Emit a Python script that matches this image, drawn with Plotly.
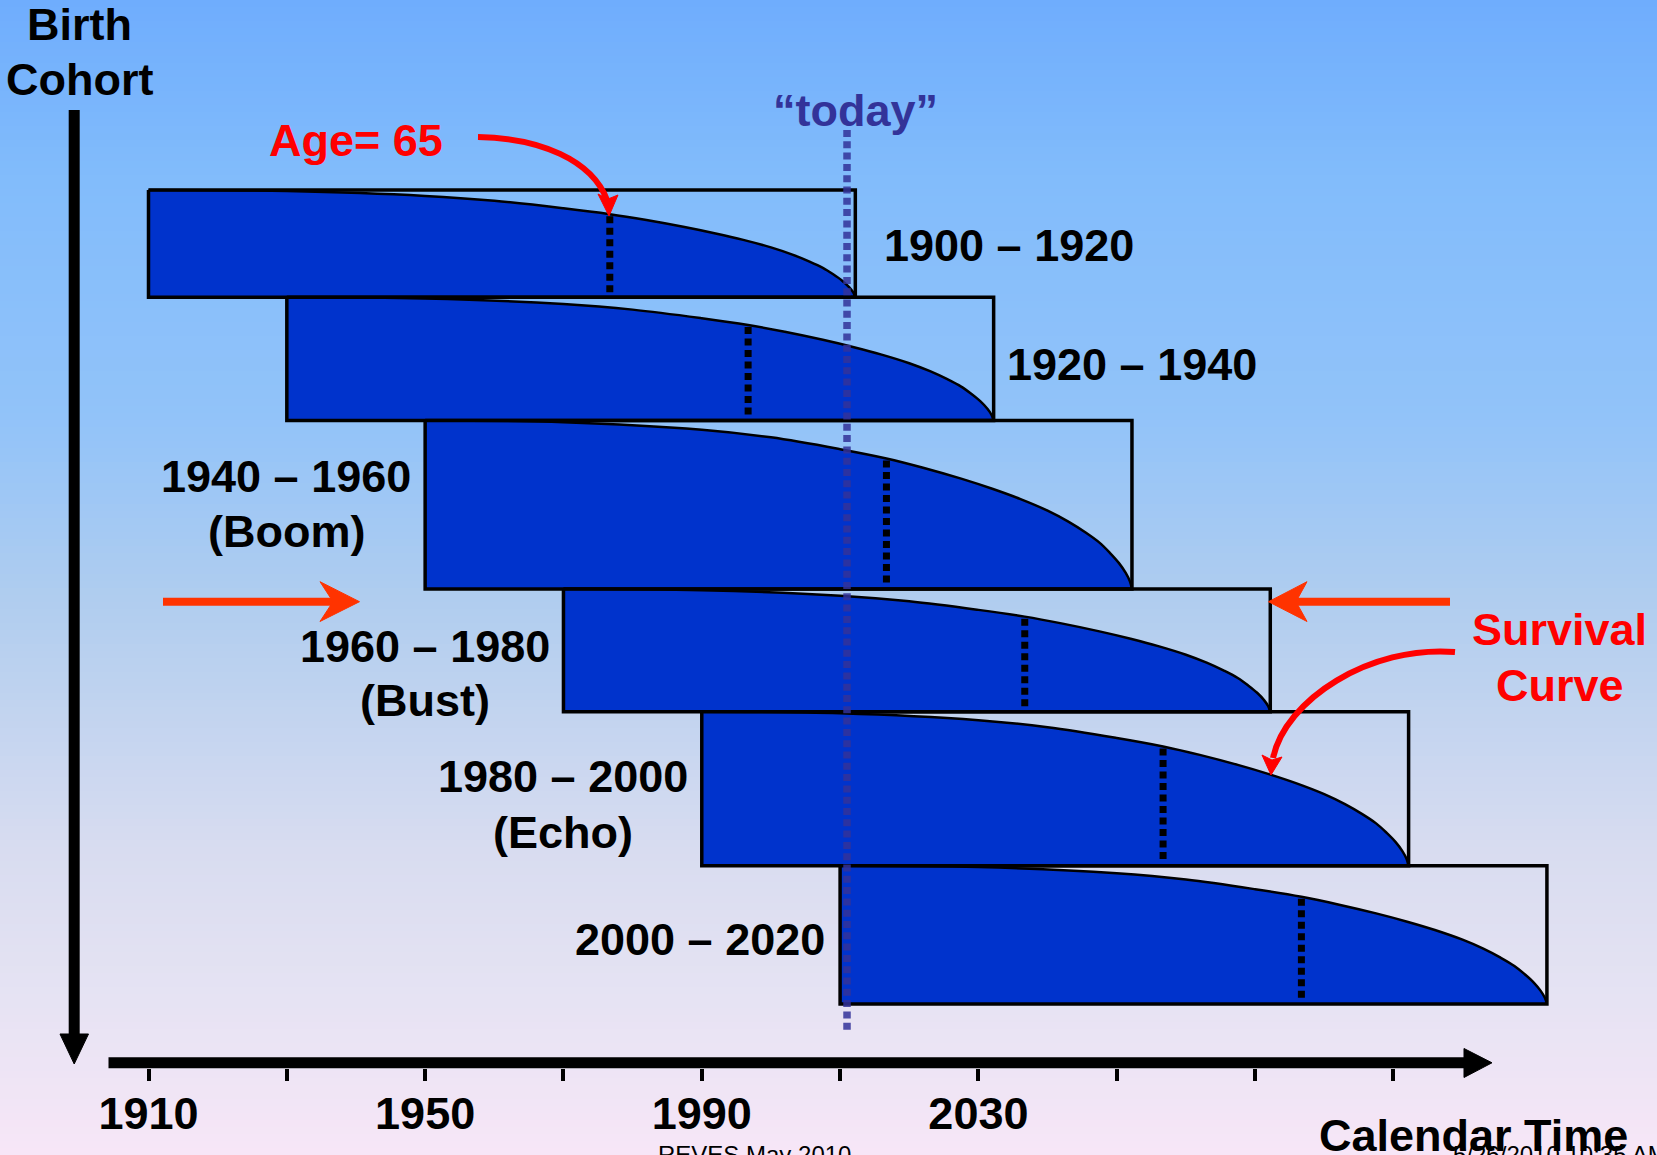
import plotly.graph_objects as go

W, H = 1657, 1155

# ---------------- data ----------------
COHORT_LABELS = ["1900 – 1920", "1920 – 1940", "1940 – 1960", "1960 – 1980", "1980 – 2000", "2000 – 2020"]
COHORT_NICKNAMES = ["", "", "(Boom)", "(Bust)", "(Echo)", ""]
COHORT_START = [1910, 1930, 1950, 1970, 1990, 2010]          # calendar year where each cohort box starts
COHORT_SIZE = [107.3, 123.2, 168.5, 122.8, 153.9, 138.3]      # relative cohort size (box height)
LIFESPAN = 102.2                                              # years covered by each box

SURV_AGE = [0, 20, 40, 50, 60, 66.7, 72, 77.5, 82, 86, 90, 93, 95.5, 97.5, 99, 100.3, 101.3, 101.9, 102.2]
SURV_PROP = [1.0, 0.99, 0.945, 0.9, 0.83, 0.775, 0.72, 0.655, 0.595, 0.535, 0.465, 0.4, 0.335, 0.275, 0.215,
             0.155, 0.095, 0.045, 0.0]
AGE_MARK = 66.7            # position of the "Age = 65" marker (years after box start)
TODAY_YEAR = 2011

TICK_YEARS = [1910, 1930, 1950, 1970, 1990, 2010, 2030, 2050, 2070, 2090]
TICK_LABELS = ["1910", "", "1950", "", "1990", "", "2030", "", "", ""]

# ---------------- geometry / style ----------------
PX_PER_YEAR = 6.916
ORIGIN_PX = 148.5          # pixel position of 1910
X0 = 1910 - ORIGIN_PX / PX_PER_YEAR
X1 = X0 + W / PX_PER_YEAR
BOX_TOP0 = 190.0

FONT = "Liberation Sans, Arial, Helvetica, sans-serif"
BLUE = "#0033cc"
RED = "#ff0000"
ORANGE_RED = "#ff3300"
TODAY_COL = "#333399"


def px(x):
    return x / W


def py(y):
    return 1 - y / H


fig = go.Figure()

# ---- background gradient (styling) ----
stops = [(0, (111, 173, 253)), (180, (130, 188, 251)), (420, (146, 195, 249)), (600, (176, 205, 239)),
         (850, (216, 220, 240)), (1000, (230, 227, 243)), (1155, (247, 230, 247))]


def grad(y):
    for (ya, ca), (yb, cb) in zip(stops[:-1], stops[1:]):
        if ya <= y <= yb:
            t = (y - ya) / (yb - ya)
            return "rgb(%d,%d,%d)" % tuple(round(a + (b - a) * t) for a, b in zip(ca, cb))
    return "rgb(%d,%d,%d)" % stops[-1][1]


shapes = []
step = 7
y = 0
while y < H:
    shapes.append(dict(type="rect", xref="paper", yref="paper", x0=0, x1=1, y0=py(min(y + step + 1, H)),
                       y1=py(y), fillcolor=grad(y + step / 2), line=dict(width=0), layer="below"))
    y += step

# ---- cohort boxes with survival curves ----
mark_idx = SURV_AGE.index(AGE_MARK)
top = BOX_TOP0
for i, (start, size) in enumerate(zip(COHORT_START, COHORT_SIZE)):
    end = start + LIFESPAN
    bottom = top + size
    # baseline for fill
    fig.add_trace(go.Scatter(x=[start, end], y=[bottom, bottom], mode="lines", line=dict(width=0, color=BLUE),
                             hoverinfo="skip", showlegend=False))
    # survival curve
    cx = [start + a for a in SURV_AGE]
    cy = [top + (1 - s) * size for s in SURV_PROP]
    fig.add_trace(go.Scatter(x=cx, y=cy, mode="lines", line=dict(color="black", width=2.5, shape="spline",
                                                                 smoothing=1.0),
                             fill="tonexty", fillcolor=BLUE, hoverinfo="skip", showlegend=False))
    # box outline
    fig.add_trace(go.Scatter(x=[start, end, end, start, start], y=[top, top, bottom, bottom, top], mode="lines",
                             line=dict(color="black", width=3.5), hoverinfo="skip", showlegend=False))
    # age-65 dotted marker
    fig.add_trace(go.Scatter(x=[start + AGE_MARK, start + AGE_MARK], y=[cy[mark_idx] + 2, bottom - 3],
                             mode="lines", line=dict(color="black", width=7, dash="7px,4.5px"),
                             hoverinfo="skip", showlegend=False))
    top = bottom

# ---- "today" line ----
fig.add_trace(go.Scatter(x=[TODAY_YEAR, TODAY_YEAR], y=[130, 1033], mode="lines",
                         line=dict(color="rgba(51,51,153,0.85)", width=7.5, dash="7px,4.3px"),
                         hoverinfo="skip", showlegend=False))

# ---- axis arrows (black) ----
shapes.append(dict(type="line", xref="paper", yref="paper", x0=px(74.2), x1=px(74.2), y0=py(110), y1=py(1040),
                   line=dict(color="black", width=11), layer="above"))
shapes.append(dict(type="path", xref="paper", yref="paper",
                   path="M %f %f L %f %f L %f %f Z" % (px(60), py(1034), px(88.5), py(1034), px(74.2), py(1064)),
                   fillcolor="black", line=dict(color="black", width=1), layer="above"))
shapes.append(dict(type="line", xref="paper", yref="paper", x0=px(108.5), x1=px(1468), y0=py(1062.8),
                   y1=py(1062.8), line=dict(color="black", width=11), layer="above"))
shapes.append(dict(type="path", xref="paper", yref="paper",
                   path="M %f %f L %f %f L %f %f Z" % (px(1464), py(1048.5), px(1492), py(1062.8), px(1464),
                                                      py(1077.5)),
                   fillcolor="black", line=dict(color="black", width=1), layer="above"))

# ---- red horizontal arrows ----
shapes.append(dict(type="line", xref="paper", yref="paper", x0=px(163), x1=px(336), y0=py(601.7), y1=py(601.7),
                   line=dict(color=ORANGE_RED, width=8), layer="above"))
shapes.append(dict(type="path", xref="paper", yref="paper",
                   path="M %f %f L %f %f L %f %f L %f %f Z" % (px(359.5), py(601.7), px(320), py(581.7),
                                                              px(333), py(601.7), px(320), py(621.5)),
                   fillcolor=ORANGE_RED, line=dict(color=ORANGE_RED, width=1), layer="above"))
shapes.append(dict(type="line", xref="paper", yref="paper", x0=px(1450), x1=px(1293), y0=py(601.7), y1=py(601.7),
                   line=dict(color=ORANGE_RED, width=8), layer="above"))
shapes.append(dict(type="path", xref="paper", yref="paper",
                   path="M %f %f L %f %f L %f %f L %f %f Z" % (px(1268.5), py(601.7), px(1307), py(581.7),
                                                              px(1296), py(601.7), px(1307), py(621.5)),
                   fillcolor=ORANGE_RED, line=dict(color=ORANGE_RED, width=1), layer="above"))

# ---- red curved arrows ----
shapes.append(dict(type="path", xref="paper", yref="paper",
                   path="M %f %f C %f %f, %f %f, %f %f" % (px(478), py(137), px(540), py(138), px(592), py(160),
                                                          px(607), py(200)),
                   fillcolor="rgba(0,0,0,0)", line=dict(color=RED, width=6), layer="above"))
shapes.append(dict(type="path", xref="paper", yref="paper",
                   path="M %f %f L %f %f L %f %f L %f %f Z" % (px(609), py(216), px(598), py(194), px(608),
                                                              py(199), px(618), py(195)),
                   fillcolor=RED, line=dict(color=RED, width=1), layer="above"))
shapes.append(dict(type="path", xref="paper", yref="paper",
                   path="M %f %f C %f %f, %f %f, %f %f" % (px(1455), py(652), px(1370), py(645), px(1285), py(700),
                                                          px(1273), py(758)),
                   fillcolor="rgba(0,0,0,0)", line=dict(color=RED, width=6), layer="above"))
shapes.append(dict(type="path", xref="paper", yref="paper",
                   path="M %f %f L %f %f L %f %f L %f %f Z" % (px(1271), py(775), px(1262), py(755), px(1272),
                                                              py(760), px(1282), py(757)),
                   fillcolor=RED, line=dict(color=RED, width=1), layer="above"))

# ---- text ----
annotations = []


def txt(text, x, y, size=45, color="black", xanchor="center", yanchor="middle"):
    annotations.append(dict(text=text, x=px(x), y=py(y), xref="paper", yref="paper", showarrow=False,
                            xanchor=xanchor, yanchor=yanchor, font=dict(family=FONT, size=size, color=color)))


txt("<b>Birth</b>", 79, 24.3)
txt("<b>Cohort</b>", 79, 79.5)
txt("<b>Age= 65</b>", 356, 140.5, color=RED)
txt("<b>“today”</b>", 855.5, 110, color=TODAY_COL)

LABEL_POS = [(1008.5, 245, None), (1132, 364, None), (286, 476.7, 531), (425, 646, 700), (562.5, 776, 832),
             (700, 939.5, None)]
for lab, nick, (lx, ly, ly2) in zip(COHORT_LABELS, COHORT_NICKNAMES, LABEL_POS):
    txt("<b>%s</b>" % lab, lx, ly)
    if nick:
        txt("<b>%s</b>" % nick, lx, ly2)

txt("<b>Survival</b>", 1559.5, 629, color=RED)
txt("<b>Curve</b>", 1560, 685.5, color=RED)
txt("<b>Calendar Time</b>", 1473.5, 1135)
txt("REVES May 2010", 754, 1138.5, size=24, yanchor="top")
txt("5/26/2010 10:35 AM", 1451, 1138.5, size=24, xanchor="left", yanchor="top")

fig.update_layout(
    width=W, height=H, autosize=False,
    margin=dict(l=0, r=0, t=0, b=0, pad=0),
    paper_bgcolor="rgb(111,173,253)", plot_bgcolor="rgba(0,0,0,0)",
    showlegend=False,
    shapes=shapes, annotations=annotations,
    xaxis=dict(range=[X0, X1], showgrid=False, zeroline=False, showline=False, anchor="free",
               position=(H - 1068) / H, ticks="outside", ticklen=12, tickwidth=4, tickcolor="black",
               tickmode="array", tickvals=TICK_YEARS, ticktext=TICK_LABELS, ticklabelstandoff=-6,
               tickfont=dict(family=FONT, size=45, color="black", weight="bold"), fixedrange=True),
    yaxis=dict(range=[H, 0], visible=False, showgrid=False, zeroline=False, fixedrange=True),
)

fig.write_html("out.html", config={"displayModeBar": False},
               post_script="document.body.style.margin='0';document.body.style.overflow='hidden';")
